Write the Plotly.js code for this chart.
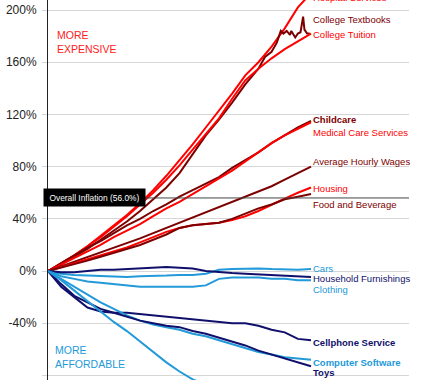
<!DOCTYPE html>
<html>
<head>
<meta charset="utf-8">
<script src="https://cdn.plot.ly/plotly-3.0.1.min.js"></script>
<style>html,body{margin:0;padding:0;background:#fff;}#chart{width:430px;height:380px;}</style>
</head>
<body>
<div id="chart"></div>
<script>
// ---- data (percent change since 1998) ----
const years = [1998,1999,2000,2001,2002,2003,2004,2005,2006,2007,2008,2009,2010,2011,2012,2013,2014,2015,2016,2017,2018];

const hospital   = [0,6,12,19,27,35,43,52,62,73,85,97,110,123,136,150,160,172,186,202,213];
const tuition    = [0,6,12,19,26,34,42,51,60,70,81,93,105,117,132,146,155,163,170,176,182];
const textbookYears = [1998,1999,2000,2001,2002,2003,2004,2005,2006,2007,2008,2009,2010,2011,2012,2013,2014,2014.5,2015,2015.4,2015.7,2015.9,2016.15,2016.4,2016.5,2016.8,2017.0,2017.2,2017.4,2017.5,2017.7,2017.9];
const textbooks  = [0,5,11,17,24,31,38,46,55,64,75,90,104,116,129,143,155,164,168,175,184,182,184,181,184,179,182,183,195,185,182,182];
const childcare  = [0,6,12,18,23,29,35,40,46,51,57,62,67,72,79,85,91,98,104,110,115];
const medical    = [0,5,10,15,20,26,31,36,42,48,53,59,65,71,77,84,91,98,104,109,114];
const wages      = [0,3.5,7,10.5,14,17.5,21,25,29,33,37,41,45,49,53,57,61,65,70,75,80];
const housing    = [0,3,6,9,12,15,18,22,26,30,33,35,36,37,39,42,46,51,55.5,60,64];
const food       = [0,2.5,5,8,11,14,17,20,24,28,33,35,36,37,40,44,48,51,55,57,59];
const cars       = [0,-2,-3,-3.5,-4,-4.5,-4.5,-4,-4,-3.5,-3,-3,-2,1,1.5,2,2,1.5,1,1,1.5];
const furnishings= [0,-1,-1,0,1,1,1.5,2,2.5,3,2.5,2,0,-1,-1.5,-2,-2.5,-3,-3.5,-4,-4.5];
const clothing   = [0,-4,-6,-8,-9,-10,-11,-12,-12,-12,-12,-12,-11,-6,-5,-5,-5,-6,-6,-7,-7];
const cellphone  = [0,-12,-20,-28,-31,-32,-32,-33,-34,-35,-36,-37,-38,-39,-40,-40,-42,-45,-47,-52,-53];
const software   = [0,-6,-12,-18,-24,-29,-34,-38,-41,-43,-45,-48,-50,-53,-56,-59,-62,-64,-66,-67,-68];
const toys       = [0,-10,-19,-24,-29,-32,-35,-38,-40,-42,-43,-46,-48,-51,-54,-57,-61,-64,-67,-70,-73];
const tvs        = [0,-7,-15,-23,-31,-39,-46,-54,-62,-70,-77,-83,-87,-90,-92,-93,-94,-95,-96,-96,-97];
const overallInflation = 56.0;

const yTickVals  = [-80,-40,0,40,80,120,160,200];
const yTickText  = ['-80%','-40%','0%','40%','80%','120%','160%','200%'];

// ---- styles ----
const RED='#ff0000', DARK='#7d0000', NAVY='#10106c', LBLUE='#2299d8';
const FONT = '"Liberation Sans", Arial, sans-serif';
const Y_RANGE = [-83.5, 207.7];
const toPaper = v => (v - Y_RANGE[0]) / (Y_RANGE[1] - Y_RANGE[0]);

const series = [
  {name:'Hospital Services', x:years, y:hospital, c:RED, ly:209.3, b:false},
  {name:'College Textbooks', x:textbookYears, y:textbooks, c:DARK, ly:193, b:false},
  {name:'College Tuition', x:years, y:tuition, c:RED, ly:181.6, b:false},
  {name:'Childcare', x:years, y:childcare, c:DARK, ly:116.5, b:true},
  {name:'Medical Care Services', x:years, y:medical, c:RED, ly:106.5, b:false},
  {name:'Average Hourly Wages', x:years, y:wages, c:DARK, ly:84.3, b:false},
  {name:'Housing', x:years, y:housing, c:RED, ly:63.6, b:false},
  {name:'Food and Beverage', x:years, y:food, c:DARK, ly:51.3, b:false},
  {name:'Cars', x:years, y:cars, c:LBLUE, ly:2.3, b:false},
  {name:'Household Furnishings', x:years, y:furnishings, c:NAVY, ly:-6.1, b:false},
  {name:'Clothing', x:years, y:clothing, c:LBLUE, ly:-13.8, b:false},
  {name:'Cellphone Service', x:years, y:cellphone, c:NAVY, ly:-54.4, b:true},
  {name:'Computer Software', x:years, y:software, c:LBLUE, ly:-70.2, b:true},
  {name:'Toys', x:years, y:toys, c:NAVY, ly:-78, b:true},
  {name:'Televisions', x:years, y:tvs, c:LBLUE, ly:null, b:false}
];

const traces = series.map(s => ({
  type:'scatter', mode:'lines', x:s.x, y:s.y, name:s.name,
  line:{color:s.c, width:2}, hoverinfo:'skip'
}));

const annotations = series.filter(s => s.ly !== null).map(s => ({
  x:2018.05, y:toPaper(s.ly), xref:'x', yref:'paper', xanchor:'left', yanchor:'middle',
  text: s.b ? '<b>'+s.name+'</b>' : s.name, showarrow:false, borderpad:0,
  font:{family:FONT, size:9.5, color:s.c}
}));

annotations.push(
  {xref:'paper', x:0.022, yref:'y', y:175.5, xanchor:'left', yanchor:'middle', align:'left', borderpad:0,
   text:'MORE<br>EXPENSIVE', showarrow:false, font:{family:FONT, size:10.5, color:'#ff2020'}},
  {xref:'paper', x:0.016, yref:'y', y:-65.9, xanchor:'left', yanchor:'middle', align:'left', borderpad:0,
   text:'MORE<br>AFFORDABLE', showarrow:false, font:{family:FONT, size:10.5, color:LBLUE}},
  {xref:'paper', x:-5/361, yref:'y', y:overallInflation+0.6, xanchor:'left', yanchor:'middle',
   text:'Overall Inflation ('+overallInflation.toFixed(1)+'%)', showarrow:false,
   bgcolor:'#000', borderpad:3.5, width:94, align:'center',
   font:{family:FONT, size:8.4, color:'#fff'}}
);

const layout = {
  width:430, height:380,
  margin:{l:48, r:21, t:0, b:0, pad:0},
  paper_bgcolor:'#fff', plot_bgcolor:'#fff',
  showlegend:false,
  xaxis:{range:[1998, 2025.45], showgrid:false, zeroline:false, showline:false, showticklabels:false, ticks:''},
  yaxis:{range:Y_RANGE, tickvals:yTickVals, ticktext:yTickText,
         showgrid:true, gridcolor:'#d6d6d6', gridwidth:1, zeroline:false,
         showline:true, linecolor:'#222', linewidth:1,
         ticks:'outside', ticklen:5, tickcolor:'#d6d6d6', ticklabelstandoff:3,
         tickfont:{family:FONT, size:12, color:'#222'}},
  shapes:[{type:'line', xref:'paper', x0:0, x1:1, yref:'y', y0:overallInflation, y1:overallInflation,
           line:{color:'#444', width:1}, layer:'above'}],
  annotations: annotations
};

Plotly.newPlot('chart', traces, layout, {staticPlot:true, displayModeBar:false});
</script>
</body>
</html>
